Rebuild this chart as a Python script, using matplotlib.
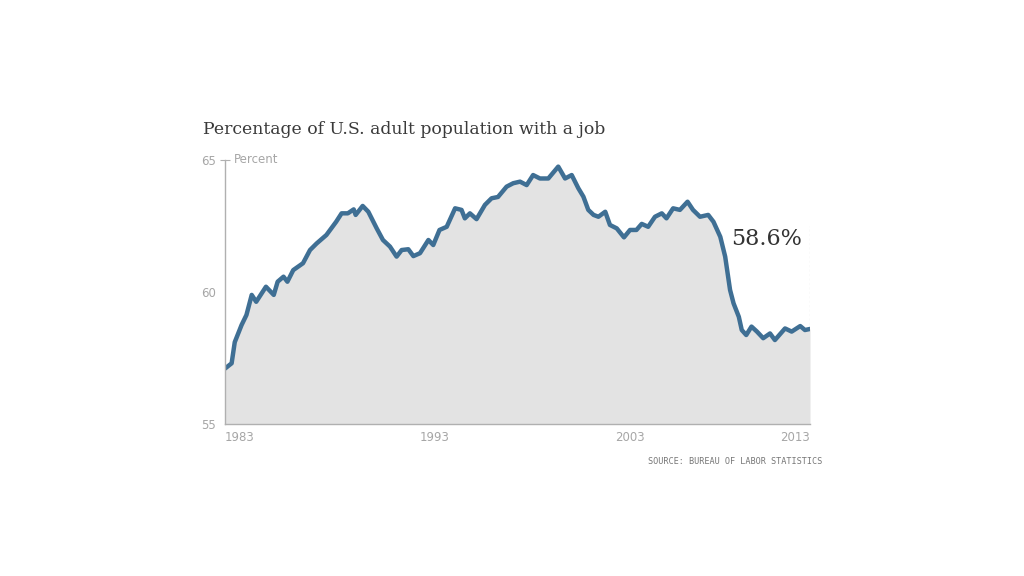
import numpy as np
import matplotlib.pyplot as plt

# employment-population ratio
years = [1983.0, 1983.34, 1983.5, 1983.85, 1984.1, 1984.37, 1984.6, 1985.1, 1985.5, 1985.7,
         1986.0, 1986.2, 1986.5, 1987.0, 1987.36, 1987.7, 1988.2, 1988.7, 1988.98, 1989.3,
         1989.6, 1989.7, 1990.06, 1990.35, 1990.78, 1991.1, 1991.46, 1991.8, 1992.06, 1992.4,
         1992.66, 1993.0, 1993.43, 1993.68, 1994.0, 1994.37, 1994.8, 1995.13, 1995.3, 1995.56,
         1995.9, 1996.33, 1996.67, 1997.0, 1997.44, 1997.78, 1998.13, 1998.47, 1998.8, 1999.15,
         1999.58, 2000.09, 2000.44, 2000.78, 2001.12, 2001.38, 2001.63, 2001.9, 2002.15, 2002.5,
         2002.74, 2003.09, 2003.46, 2003.77, 2004.1, 2004.37, 2004.7, 2005.05, 2005.4, 2005.64,
         2005.98, 2006.33, 2006.72, 2007.0, 2007.36, 2007.78, 2008.05, 2008.4, 2008.65, 2008.9,
         2009.08, 2009.35, 2009.5, 2009.73, 2010.0, 2010.28, 2010.6, 2010.95, 2011.2, 2011.72,
         2012.06, 2012.5, 2012.74, 2013.0]
values = [57.1, 57.3, 58.1, 58.75, 59.13, 59.89, 59.63, 60.2, 59.89, 60.39,
          60.58, 60.39, 60.83, 61.09, 61.59, 61.84, 62.16, 62.66, 62.98, 62.98,
          63.13, 62.92, 63.26, 63.04, 62.41, 61.97, 61.72, 61.34, 61.59, 61.62,
          61.36, 61.47, 61.97, 61.78, 62.35, 62.47, 63.17, 63.11, 62.79, 62.98,
          62.76, 63.3, 63.55, 63.6, 63.99, 64.12, 64.18, 64.05, 64.43, 64.3,
          64.3, 64.75, 64.3, 64.43, 63.93, 63.61, 63.11, 62.92, 62.85, 63.04,
          62.54, 62.41, 62.07, 62.35, 62.35, 62.58, 62.47, 62.85, 62.98, 62.79,
          63.17, 63.11, 63.42, 63.11, 62.85, 62.92, 62.66, 62.09, 61.34, 60.08,
          59.57, 59.06, 58.56, 58.37, 58.69, 58.5, 58.25, 58.43, 58.18, 58.62,
          58.5, 58.71, 58.56, 58.6]
xticks = [1983, 1993, 2003, 2013]
yticks = [55, 60, 65]

narrow = ['Liberation Sans Narrow', 'DejaVu Sans']
grey = '#a6a6a6'

fig = plt.figure(figsize=(10.24, 5.76), dpi=100)
ax = fig.add_axes([225/1024, 1 - 424/576, 585/1024, 264/576])

ax.fill_between(years, values, 55, color='#e3e3e3', lw=0)
ax.plot(years, values, color='#3f6f94', lw=3.2, solid_capstyle='round', solid_joinstyle='round')

ax.set_xlim(1983, 2013)
ax.set_ylim(55, 65)

for s in ['top', 'right']:
    ax.spines[s].set_visible(False)
for s in ['left', 'bottom']:
    ax.spines[s].set_color('#b0b0b0')
    ax.spines[s].set_linewidth(1)

ax.set_yticks(yticks)
ax.set_yticklabels([str(y) for y in yticks], family=narrow, fontsize=8.5, color=grey)
ax.tick_params(axis='y', length=7, direction='inout', color='#b0b0b0', pad=3)
for t in ax.yaxis.get_major_ticks()[:-1]:
    t.tick1line.set_visible(False)

ax.set_xticks(xticks)
ax.set_xticklabels([str(x) for x in xticks], family=narrow, fontsize=8.5, color=grey)
ax.tick_params(axis='x', length=0, pad=5)
xl = ax.get_xticklabels()
for lab in xl[:-1]:
    lab.set_ha('left')
xl[-1].set_ha('right')

ax.text(1983.45, 65, 'Percent', family=narrow, fontsize=8.5, color=grey, va='center', ha='left')

# last value callout
ax.vlines(years[-1], values[-1], 62.5, colors='#b0b0b0', linestyles=(0, (2, 2)), lw=0.8)
ax.text(years[-1] - 0.4, 62.0, '58.6%', family='DejaVu Serif', fontsize=16, color='#333333',
        ha='right', va='center')

fig.text(203/1024, 1 - 130/576, 'Percentage of U.S. adult population with a job',
         family='DejaVu Serif', fontsize=12.4, color='#3a3a3a', va='center', ha='left')
fig.text(822/1024, 1 - 462/576, 'SOURCE: BUREAU OF LABOR STATISTICS',
         family='DejaVu Sans Mono', fontsize=6.1, color='#777777', va='center', ha='right')

fig.savefig('out.png', dpi=100, facecolor='white')
